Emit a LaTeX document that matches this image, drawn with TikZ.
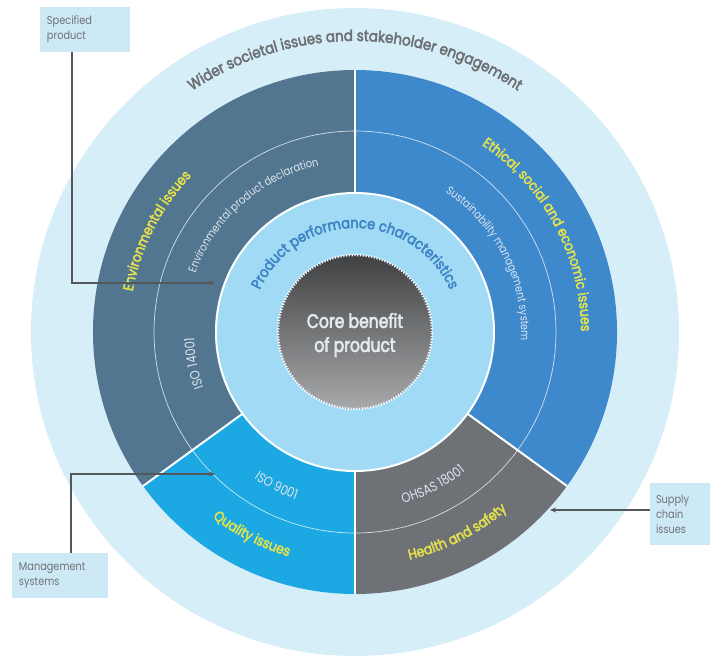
\documentclass[tikz,border=0pt]{standalone}
\usepackage{fontspec}
\setmainfont{Poppins}[FakeStretch=0.85]
\newfontfamily\medfont{Poppins}[FakeStretch=0.88, FakeBold=3]
\newfontfamily\corefont{Poppins}[FakeStretch=0.8, FakeBold=3]
\usetikzlibrary{decorations.text,arrows.meta}
\definecolor{outerring}{HTML}{D6EEF8}
\definecolor{envcol}{HTML}{527690}
\definecolor{ethcol}{HTML}{3E88CC}
\definecolor{qualcol}{HTML}{1CA8E2}
\definecolor{healthcol}{HTML}{6E7276}
\definecolor{prodring}{HTML}{A0DAF5}
\definecolor{coretop}{HTML}{404143}
\definecolor{corebot}{HTML}{A8A9AB}
\definecolor{yellowtxt}{HTML}{E2E04E}
\definecolor{smalltxt}{HTML}{DCE5EE}
\definecolor{prodtxt}{HTML}{3F84C4}
\definecolor{widertxt}{HTML}{6E7175}
\definecolor{boxfill}{HTML}{CDE9F6}
\definecolor{boxtxt}{HTML}{6E7276}
\definecolor{conncol}{HTML}{55585B}
\definecolor{coretxt}{HTML}{E4E9EE}
\tikzset{
  callout/.style={fill=boxfill, text=boxtxt, font=\fontsize{11.5}{15}\selectfont, align=left, inner sep=0pt},
  conn/.style={draw=conncol, line width=1.2pt, -{Stealth[length=6pt,width=5pt]}},
  separator/.style={draw=white, line width=2pt},
  coretext/.style={text=coretxt, font=\corefont\fontsize{19.5}{24}\selectfont, align=center}
}
\begin{document}
\begin{tikzpicture}[x=1pt,y=1pt]
\useasboundingbox (-355,-325) rectangle (363,332);
% outer ring
\fill[outerring] (0,0) circle (324);
% segments
\fill[envcol] (0,0) -- (90:262) arc[start angle=90, end angle=216, radius=262] -- cycle;
\fill[ethcol] (0,0) -- (-36:262) arc[start angle=-36, end angle=90, radius=262] -- cycle;
\fill[qualcol] (0,0) -- (216:262) arc[start angle=216, end angle=270, radius=262] -- cycle;
\fill[healthcol] (0,0) -- (270:262) arc[start angle=270, end angle=324, radius=262] -- cycle;
% thin inner circle
\draw[white, line width=0.7pt, opacity=0.75] (0,0) circle (201);
% separators
\path[separator] (90:139) -- (90:262);
\path[separator] (216:139) -- (216:262);
\path[separator] (270:139) -- (270:262);
\path[separator] (324:139) -- (324:262);
% product ring
\fill[prodring] (0,0) circle (139);
\draw[white, line width=2pt] (0,0) circle (139);
% core
\shade[top color=coretop, bottom color=corebot] (0,0) circle (77);
\draw[white, line width=2.4pt, dash pattern=on 1.2pt off 1.6pt] (0,0) circle (77);
\node[coretext] (core) at (0,-3) {Core benefit\\of product};
% arc texts
\path[decorate, decoration={text along path, text align=center,
  text={|\color{widertxt}\medfont\fontsize{15.3}{17}\selectfont|Wider societal issues and stakeholder engagement}}]
  (170:291) arc[start angle=170, end angle=10, radius=291];
\path[decorate, decoration={text along path, text align=center,
  text={|\color{prodtxt}\medfont\fontsize{14.8}{17}\selectfont|Product performance characteristics}}]
  (180:104) arc[start angle=180, end angle=0, radius=104];
\path[decorate, decoration={text along path, text align=center,
  text={|\color{yellowtxt}\medfont\fontsize{14.2}{16}\selectfont|Environmental issues}}]
  (200:226) arc[start angle=200, end angle=106, radius=226];
\path[decorate, decoration={text along path, text align=center,
  text={|\color{smalltxt}\fontsize{11.5}{13}\selectfont|Environmental product declaration}}]
  (180:170) arc[start angle=180, end angle=82, radius=170];
\path[decorate, decoration={text along path, text align=center,
  text={|\color{smalltxt}\fontsize{13.5}{15}\selectfont|ISO 14001}}]
  (230:161) arc[start angle=230, end angle=152, radius=161];
\path[decorate, decoration={text along path, text align=center,
  text={|\color{yellowtxt}\medfont\fontsize{14.2}{16}\selectfont|Ethical, social and economic issues}}]
  (75:226) arc[start angle=75, end angle=-19, radius=226];
\path[decorate, decoration={text along path, text align=center,
  text={|\color{smalltxt}\fontsize{11.5}{13}\selectfont|Sustainability management system}}]
  (75:166) arc[start angle=75, end angle=-21, radius=166];
\path[decorate, decoration={text along path, text align=center,
  text={|\color{smalltxt}\fontsize{13.5}{15}\selectfont|ISO 9001}}]
  (210:178) arc[start angle=210, end angle=276, radius=178];
\path[decorate, decoration={text along path, text align=center,
  text={|\color{yellowtxt}\medfont\fontsize{14.2}{16}\selectfont|Quality issues}}]
  (210:234) arc[start angle=210, end angle=276, radius=234];
\path[decorate, decoration={text along path, text align=center,
  text={|\color{smalltxt}\fontsize{13.5}{15}\selectfont|OHSAS 18001}}]
  (264:178) arc[start angle=264, end angle=330, radius=178];
\path[decorate, decoration={text along path, text align=center,
  text={|\color{yellowtxt}\medfont\fontsize{14.2}{16}\selectfont|Health and safety}}]
  (264:234) arc[start angle=264, end angle=330, radius=234];
% callouts
\node[callout, minimum width=90pt, minimum height=45pt, text width=76pt] (spec) at (-270,302.5) {Specified\\product};
\node[callout, minimum width=96pt, minimum height=45pt, text width=82pt] (mgmt) at (-295,-243.5) {Management\\systems};
\node[callout, minimum width=60pt, minimum height=62pt, text width=48pt] (supply) at (325,-182) {Supply\\chain\\issues};
\coordinate (specend) at (-140,49);
\coordinate (mgmtend) at (-140,-142);
\coordinate (supplyend) at (195,-178);
\draw[conn] ([xshift=-13pt]spec.south) |- (specend);
\draw[conn] ([xshift=11pt]mgmt.north) |- (mgmtend);
\draw[conn] ([yshift=4pt]supply.west) -- (supplyend);
\end{tikzpicture}
\end{document}
